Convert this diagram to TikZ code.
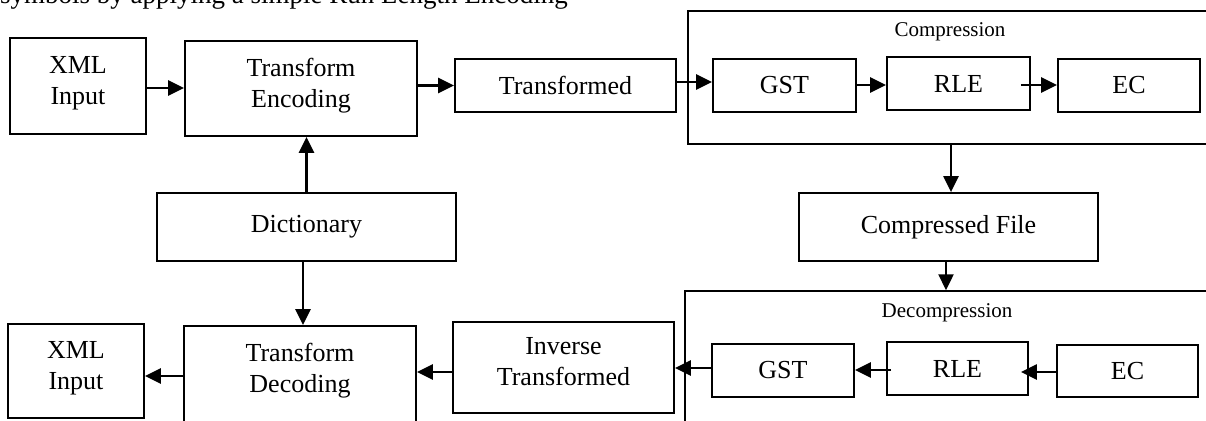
\documentclass[tikz,border=0pt]{standalone}
\usepackage{fontspec}
\setmainfont{Liberation Serif}
\usetikzlibrary{arrows.meta}
\begin{document}
\begin{tikzpicture}[x=1pt,y=-1pt,
  box/.style={draw, line width=1.8pt, inner sep=0pt, align=center,
    font=\fontsize{26}{31}\selectfont},
  twoline/.style={text depth=12pt},
  frame/.style={draw, line width=1.5pt, inner sep=0pt},
  arr/.style={line width=2.4pt, -{Triangle[length=16pt,width=15pt]}},
  small/.style={font=\fontsize{21}{25}\selectfont, inner sep=0pt}]
\useasboundingbox (0,0) rectangle (1206,420);
\clip (0,0) rectangle (1206,420);

% trailing line of the surrounding text
\node[anchor=base west, inner sep=0pt, font=\fontsize{27}{32}\selectfont]
  (caption) at (0,4) {symbols by applying a simple Run Length Encoding};

% compression / decompression frames (open to the right)
\node[frame, minimum width=532pt, minimum height=133pt] (comp) at (954,77.5) {};
\node[frame, minimum width=535pt, minimum height=146pt] (decomp) at (952.5,364) {};
\node[small] (complabel) at (950,32) {Compression};
\node[small] (decomplabel) at (947,313) {Decompression};

% encoder row
\node[box, twoline, minimum width=136pt, minimum height=96pt] (xmlin) at (78,86) {XML\\Input};
\node[box, twoline, minimum width=232pt, minimum height=95pt] (tenc) at (301,88.5) {Transform\\Encoding};
\node[box, minimum width=221pt, minimum height=53pt] (transd) at (565.5,85.5) {Transformed};
\node[box, minimum width=143pt, minimum height=53pt] (gstc) at (784.5,85.5) {GST};
\node[box, minimum width=143pt, minimum height=53pt] (rlec) at (958.5,83.5) {RLE};
\node[box, minimum width=142pt, minimum height=53pt] (ecc) at (1129,85.5) {EC};

% middle row
\node[box, minimum width=299pt, minimum height=68pt] (dict) at (306.5,227) {Dictionary};
\node[box, minimum width=299pt, minimum height=68pt] (cfile) at (948.5,227) {Compressed File};

% decoder row
\node[box, twoline, minimum width=136pt, minimum height=94pt] (xmlout) at (76,371) {XML\\Input};
\node[box, twoline, minimum width=232pt, minimum height=96pt] (tdec) at (300,374) {Transform\\Decoding};
\node[box, twoline, minimum width=221pt, minimum height=91pt] (invt) at (563.5,367.5) {Inverse\\Transformed};
\node[box, minimum width=142pt, minimum height=53pt] (gstd) at (783,370.5) {GST};
\node[box, minimum width=141pt, minimum height=53pt] (rled) at (957.5,368.5) {RLE};
\node[box, minimum width=141pt, minimum height=52pt] (ecd) at (1127.5,371) {EC};

% encoding flow
\draw[arr] ([yshift=-2pt]xmlin.east) -- ([yshift=-2pt]xmlin.east -| tenc.west);
\draw[arr] (tenc.east |- transd.west) -- (transd.west);
\draw[arr] ([yshift=3.5pt]transd.east) -- ([yshift=3.5pt]gstc.west);
\draw[arr] ([yshift=0.5pt]gstc.east) -- ([yshift=0.5pt]gstc.east -| rlec.west);
\draw[arr] ([xshift=-10pt,yshift=-1.5pt]rlec.east) -- ([yshift=-1.5pt]rlec.east -| ecc.west);

% dictionary links
\draw[arr] (dict.north) -- (dict.north |- tenc.south);
\draw[arr] ([xshift=-3.5pt]dict.south) -- ([xshift=-3.5pt]dict.south |- tdec.north);

% compressed file
\draw[arr] ([xshift=2.5pt]comp.south -| cfile.north) -- ([xshift=2.5pt]cfile.north);
\draw[arr] ([xshift=-2.5pt]cfile.south) -- ([xshift=-2.5pt]cfile.south |- decomp.north);

% decoding flow
\draw[arr] ([yshift=-1pt]ecd.west) -- ([xshift=-8pt,yshift=-1pt]ecd.west -| rled.east);
\draw[arr] ([xshift=5pt,yshift=-1.5pt]rled.west) -- ([yshift=-1.5pt]rled.west -| gstd.east);
\draw[arr] ([yshift=2.5pt]gstd.west) -- ([yshift=2.5pt]gstd.west -| invt.east);
\draw[arr] ([yshift=-4.5pt]invt.west) -- ([yshift=-4.5pt]invt.west -| tdec.east);
\draw[arr] ([yshift=-2pt]tdec.west) -- ([yshift=-2pt]tdec.west -| xmlout.east);
\end{tikzpicture}
\end{document}
